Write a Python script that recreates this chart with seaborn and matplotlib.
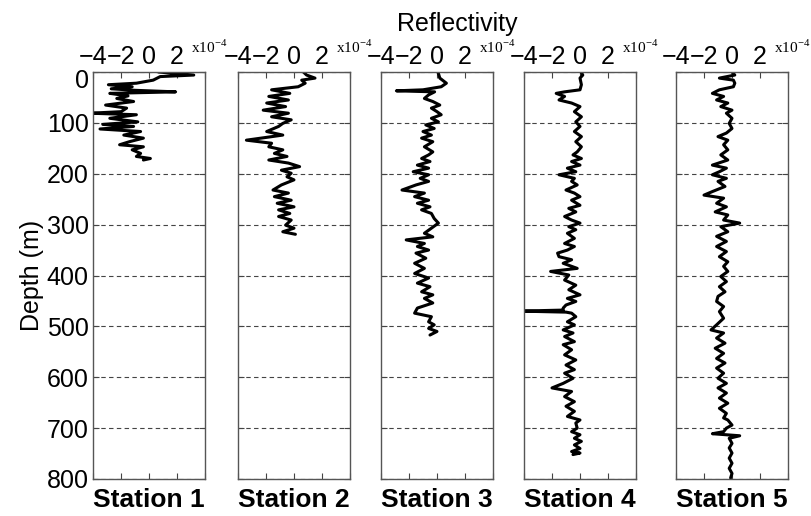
import matplotlib.pyplot as plt
import matplotlib.transforms as mtransforms
import seaborn as sns

# depth (m) and reflectivity (x10^-4) picked off the five logs
st1_depth = [0, 6, 9, 16, 22, 25, 29, 33, 36, 39, 42, 47, 52, 58, 65, 71, 78, 81, 84,
             91, 98, 103, 107, 112, 117, 124, 130, 137, 143, 147, 153, 160, 166, 170, 173]
st1_refl = [0.67, 3.2, 0.8, 0.3, -0.9, -2.9, -1.2, -2.7, -1.0, 1.9, -2.8, -1.5, -2.3, -1.1,
            -3.1, -1.6, -2.0, -4.2, -0.9, -2.8, -0.8, -3.3, -1.1, -3.5, -0.6, -1.8, -0.4,
            -1.4, -2.1, -0.4, -1.2, -0.6, -0.9, 0.1, -0.4]

st2_depth = [0, 6, 12, 16, 22, 29, 35, 42, 48, 55, 61, 68, 75, 81, 88, 94, 101, 107, 117,
             124, 134, 140, 147, 153, 160, 166, 173, 179, 186, 193, 199, 206, 212, 222, 232,
             238, 245, 252, 258, 265, 271, 278, 284, 291, 301, 307, 314, 319]
st2_refl = [0.67, 0.9, 1.5, 0.55, 0.8, 0.3, -1.6, -0.3, -1.8, -0.4, -1.95, -0.6, -2.2, -0.4,
            -1.6, -0.2, -0.8, -1.1, -1.95, -0.8, -3.4, -1.6, -1.8, -0.8, -1.4, -0.5, -1.8,
            -0.4, 0.4, -0.9, -0.2, -0.5, 0.0, -0.9, -1.5, -0.4, -1.4, -0.2, -1.2, 0.0, -1.1,
            -0.3, -1.1, -0.2, -0.6, 0.0, -0.8, 0.1]

st3_depth = [0, 12, 22, 29, 35, 37, 39, 45, 52, 58, 65, 71, 78, 84, 91, 98, 104, 111, 117,
             124, 130, 137, 147, 157, 163, 170, 176, 183, 189, 196, 202, 209, 215, 222, 232,
             238, 245, 252, 258, 265, 271, 278, 288, 297, 307, 317, 324, 330, 337, 343, 350,
             356, 366, 376, 386, 396, 405, 415, 422, 432, 438, 445, 454, 464, 474, 481, 491,
             497, 504, 510, 517]
st3_refl = [0.07, 0.2, 0.67, 0.3, -1.0, -2.9, -0.17, -0.6, -0.9, -0.3, 0.2, -0.4, 0.0, 0.3,
            -0.4, 0.1, -0.8, -0.2, -1.0, -0.4, -1.1, -0.3, -0.9, -0.3, -0.6, -1.1, -0.5,
            -1.4, -0.6, -1.7, -0.6, -1.2, -0.6, -1.5, -2.5, -0.9, -1.6, -0.6, -1.4, -0.5,
            -1.1, -0.4, -0.2, 0.1, -0.4, -0.9, -0.3, -2.2, -0.9, -1.4, -0.6, -1.5, -0.8,
            -1.6, -0.9, -1.6, -0.6, -1.4, -0.5, -1.1, -0.3, -0.9, -0.3, -1.4, -1.6, -0.4,
            -0.6, -0.2, -0.6, 0.0, -0.5]

st4_depth = [0, 6, 12, 25, 35, 39, 42, 48, 55, 61, 68, 78, 88, 98, 107, 117, 127, 137, 147,
             157, 163, 170, 176, 183, 189, 196, 202, 209, 215, 222, 232, 238, 245, 252, 262,
             268, 275, 284, 291, 297, 304, 310, 317, 327, 337, 343, 350, 356, 363, 369, 376,
             386, 392, 399, 409, 419, 428, 438, 445, 451, 458, 464, 468, 470, 472, 474, 481,
             491, 497, 507, 513, 520, 530, 536, 546, 556, 566, 576, 585, 592, 602, 612, 621,
             628, 638, 648, 657, 667, 677, 684, 690, 700, 707, 713, 720, 726, 733, 740, 746,
             749, 752]
st4_refl = [0.07, 0.2, 0.0, 0.1, 0.0, -1.1, -1.7, -1.1, -1.5, -0.6, 0.0, -0.4, 0.1, -0.3,
            0.0, -0.4, 0.1, -0.3, 0.1, -0.2, -0.5, 0.1, -0.6, 0.0, -0.9, -0.3, -1.5, -0.4,
            -0.6, -0.2, -1.0, -0.4, 0.0, -0.6, 0.0, -0.8, -0.3, -1.1, -0.6, 0.0, -0.8, -0.3,
            -0.9, -0.4, -1.1, -0.4, -0.9, -1.6, -1.5, -0.6, -1.2, -0.2, -2.1, -0.8, -1.1,
            -0.3, -0.8, 0.0, -0.9, -0.3, -1.0, -1.2, -1.2, -4.3, -1.0, -0.6, -0.3, -0.9,
            -0.4, -1.2, -0.5, -1.1, -0.4, -1.2, -0.6, -1.1, -0.3, -1.0, -0.4, -1.1, -0.5,
            -1.2, -2.0, -0.6, -1.1, -0.4, -1.0, -0.4, -0.9, 0.0, -0.3, -0.2, -0.6, 0.0, -0.4,
            0.1, -0.4, 0.0, -0.6, 0.0, -0.5]

st5_depth = [0, 6, 12, 16, 22, 29, 35, 42, 48, 55, 61, 68, 75, 81, 91, 101, 111, 120, 127,
             134, 143, 153, 163, 173, 183, 189, 196, 202, 209, 215, 225, 235, 242, 248, 258,
             265, 275, 281, 291, 297, 304, 314, 323, 333, 343, 353, 363, 373, 382, 392, 402,
             412, 422, 432, 441, 451, 461, 471, 484, 497, 507, 513, 523, 533, 543, 553, 563,
             572, 582, 592, 602, 612, 621, 631, 641, 651, 661, 671, 680, 684, 694, 700, 707,
             711, 715, 720, 730, 739, 749, 759, 769, 779, 789, 798]
st5_refl = [0.0, 0.2, -0.9, 0.1, 0.2, 0.1, -0.9, -1.4, -0.6, -1.1, -0.3, -0.8, 0.0, -0.4,
            0.0, -0.2, 0.0, -0.4, -1.0, -0.3, -0.6, -0.3, -0.8, -0.3, -1.4, -0.4, -0.9, -1.4,
            -0.4, -1.0, -0.5, -1.4, -2.0, -0.6, -1.1, -0.4, -1.2, -0.3, -0.6, 0.55, -0.8,
            -0.3, -1.1, -0.4, -1.1, -0.4, -0.9, -0.3, -0.6, -0.3, -0.8, -0.4, -0.9, -0.5,
            -1.0, -1.1, -0.6, -0.9, -0.6, -1.1, -1.5, -0.6, -1.1, -0.5, -1.2, -0.6, -1.1,
            -0.5, -1.1, -0.6, -1.0, -0.4, -1.0, -0.4, -0.9, -0.3, -0.9, -0.4, -0.6, -0.3,
            0.0, -0.4, -0.6, -1.4, 0.55, -0.2, 0.0, -0.2, 0.0, -0.2, 0.0, -0.2, 0.0, -0.1]

stations = ["Station 1", "Station 2", "Station 3", "Station 4", "Station 5"]
depths = [st1_depth, st2_depth, st3_depth, st4_depth, st5_depth]
refls = [st1_refl, st2_refl, st3_refl, st4_refl, st5_refl]

sns.set_theme(style="white")
plt.rcParams["font.family"] = ["Liberation Sans", "DejaVu Sans"]
plt.rcParams.update({"text.color": "black", "axes.labelcolor": "black",
                     "xtick.color": "black", "ytick.color": "black"})

W, H = 811, 516
fig = plt.figure(figsize=(W / 100, H / 100), dpi=100)
lefts = [93, 238, 381, 524, 676]

for i, (name, d, r) in enumerate(zip(stations, depths, refls)):
    ax = fig.add_axes([lefts[i] / W, 37 / H, 112 / W, 407 / H])
    sns.lineplot(x=r, y=d, sort=False, estimator=None, color="black", lw=2.2, ax=ax)
    ax.set_xlim(-4, 4)
    ax.set_ylim(800, 0)
    ax.set_xticks([-4, -2, 0, 2, 4])
    ax.set_xticklabels(["\u22124", "\u22122", "0", "2", ""])
    ax.set_yticks(range(0, 801, 100))
    ax.tick_params(axis="x", top=True, bottom=True, labeltop=True, labelbottom=False,
                   direction="in", length=4, width=0.8, color="#444", pad=2, labelsize=18)
    ax.tick_params(axis="y", left=True, right=True, direction="in", length=4, width=0.8,
                   color="#444", labelleft=(i == 0), pad=3, labelsize=18)
    ax.grid(axis="y", color="#444", lw=0.8, ls=(0, (4, 3)))
    for s in ax.spines.values():
        s.set_color("#555")
        s.set_linewidth(1.0)
    ax.set_xlabel("")
    ax.set_ylabel("")
    ax.text(0.875, 1.04, r"x10$^{\mathregular{-4}}$", transform=ax.transAxes,
            family="Liberation Serif", fontsize=11, ha="left", va="bottom")
    ax.text(0.5, -0.022, name, transform=ax.transAxes, ha="center", va="top",
            family=["Liberation Sans Narrow", "Liberation Sans"], fontweight="bold",
            fontsize=19)
    if i == 0:
        ax.set_ylabel("Depth (m)", fontsize=18, labelpad=2)
        # the "0" label sits a little under the top spine, clear of the x labels
        fig.canvas.draw()
        lab0 = ax.get_yticklabels()[0]
        lab0.set_transform(lab0.get_transform() +
                           mtransforms.ScaledTranslation(0, -6 / 100, fig.dpi_scale_trans))

fig.text(457 / W, 1 - 24 / H, "Reflectivity", ha="center", va="center", fontsize=18)

fig.savefig("out.png", dpi=100)
